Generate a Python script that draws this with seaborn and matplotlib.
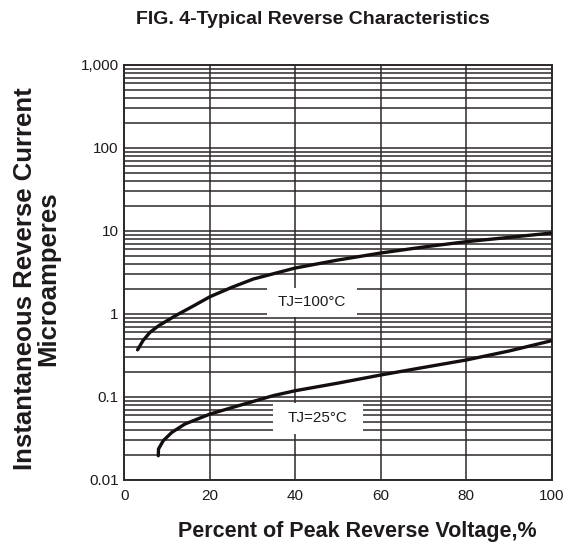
import numpy as np
import pandas as pd
import matplotlib
matplotlib.use("Agg")
import matplotlib.pyplot as plt
from matplotlib.patches import Rectangle
from matplotlib.ticker import LogLocator, NullFormatter
import seaborn as sns

# ---- data ----
tj100_x = [3.1, 4.4, 6.0, 8.0, 11.9, 15.8, 20.1, 25.1, 30.2, 40, 50, 60, 70, 80, 90, 100]
tj100_y = [0.37, 0.48, 0.60, 0.72, 0.95, 1.22, 1.62, 2.09, 2.64, 3.58, 4.47, 5.43, 6.41, 7.43, 8.37, 9.46]

tj25_x = [7.95, 8.0, 9.1, 11.1, 14.2, 20.1, 26.7, 34.9, 40, 50, 60, 70, 80, 90, 100]
tj25_y = [0.0196, 0.0236, 0.0297, 0.0374, 0.0473, 0.0624, 0.0785, 0.104, 0.119, 0.147, 0.184, 0.227, 0.279, 0.358, 0.477]

series_names = ["TJ=100°C", "TJ=25°C"]
x_ticks = [0, 20, 40, 60, 80, 100]
y_ticks = [0.01, 0.1, 1, 10, 100, 1000]
y_tick_labels = ["0.01", "0.1", "1", "10", "100", "1,000"]

title = "FIG. 4-Typical Reverse Characteristics"
x_label = "Percent of Peak Reverse Voltage,%"
y_label = "Instantaneous Reverse Current\nMicroamperes"

df = pd.concat([
    pd.DataFrame({"voltage": tj100_x, "current": tj100_y, "series": series_names[0]}),
    pd.DataFrame({"voltage": tj25_x, "current": tj25_y, "series": series_names[1]}),
], ignore_index=True)

sns.set_style("white")
plt.rcParams["font.family"] = ["Liberation Sans", "DejaVu Sans"]

grid_color = "#2e2828"
text_color = "#1e1a1a"
fig = plt.figure(figsize=(5.71, 5.47), dpi=100)
ax = fig.add_axes([0.2177, 0.1225, 0.7485, 0.7587])

sns.lineplot(data=df, x="voltage", y="current", hue="series", units="series",
             palette=["#140e0e", "#140e0e"], estimator=None, sort=False,
             legend=False, linewidth=2.4, solid_capstyle="round", ax=ax, zorder=4)

ax.set_yscale("log")
ax.set_xlim(0, 100)
ax.set_ylim(0.01, 1000)
ax.set_xticks(x_ticks)
ax.set_yticks(y_ticks, y_tick_labels)
ax.yaxis.set_minor_locator(LogLocator(base=10, subs=np.arange(2, 10)))
ax.yaxis.set_minor_formatter(NullFormatter())
ax.grid(which="major", axis="both", color=grid_color, linewidth=1.1)
ax.grid(which="minor", axis="y", color=grid_color, linewidth=1.1)
ax.set_axisbelow(True)
for sp in ax.spines.values():
    sp.set_color(grid_color)
    sp.set_linewidth(1.4)
ax.tick_params(axis="both", which="both", length=0, labelsize=11, labelcolor=text_color)
ax.tick_params(axis="x", pad=6.5)
ax.tick_params(axis="y", pad=4)
ax.set_xlabel("")
ax.set_ylabel("")

# label boxes (white background interrupting the grid)
ax.add_patch(Rectangle((33.3, 0.93), 21.2, 2.05 - 0.93, facecolor="white", edgecolor="none", zorder=3))
ax.text(43.9, 1.40, series_names[0], ha="center", va="center", fontsize=11, color=text_color, zorder=5)
ax.add_patch(Rectangle((34.9, 0.0355), 20.9, 0.0845 - 0.0355, facecolor="white", edgecolor="none", zorder=3))
ax.text(45.3, 0.0555, series_names[1], ha="center", va="center", fontsize=11, color=text_color, zorder=5)

fig.text(313 / 571, 1 - 20 / 547, title, ha="center", va="center", fontsize=14, fontweight="bold", color=text_color)
fig.text(357 / 571, 1 - 532 / 547, x_label, ha="center", va="center", fontsize=15.5, fontweight="bold", color=text_color)
fig.text(37 / 571, 1 - 279 / 547, y_label, ha="center", va="center", rotation=90, fontsize=18.5, fontweight="bold",
         linespacing=0.95, multialignment="center", color=text_color)

fig.savefig("out.png", dpi=100)
